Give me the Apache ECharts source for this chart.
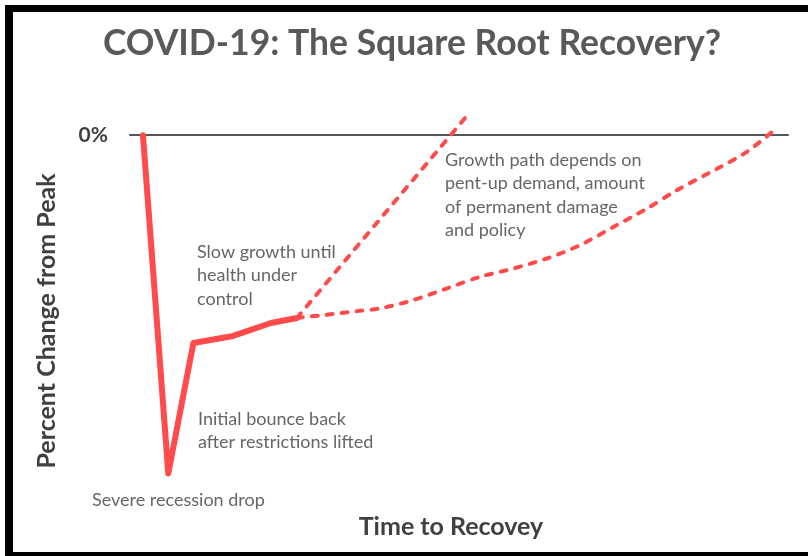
<!DOCTYPE html>
<html lang="en">
<head>
    <meta charset="UTF-8">
    <title>COVID-19: The Square Root Recovery?</title>
    <script src="https://cdn.jsdelivr.net/npm/echarts@6/dist/echarts.min.js"></script>
    <style>
        html, body { margin: 0; padding: 0; background: #fff; overflow: hidden; }
        #chart { position: absolute; left: 0; top: 0; width: 808px; height: 556px; }
        /* black frame round the picture, no right edge */
        #frame {
            position: absolute; left: 5px; top: 5px; width: 820px; height: 540px;
            border-left: 8px solid #000; border-top: 7px solid #000; border-bottom: 6px solid #000;
            pointer-events: none;
        }
    </style>
</head>
<body>
<div id="chart"></div>
<div id="frame"></div>
<script>
    // x = time units, y = percent change from peak
    var dropX = [0.65, 1.92, 3.18, 5.17, 7.07, 8.37];
    var dropY = [0, -29.7, -18.25, -17.63, -16.49, -16.05];

    var fastX = [8.37, 17.05];
    var fastY = [-16.05, 2.02];

    var slowX = [8.37, 9.68, 11.38, 12.54, 14.19, 15.9, 17.55, 19.21, 20.91, 22.57, 24.22, 25.93, 27.43, 29.44, 30.94, 32.45];
    var slowY = [-16.05, -15.8, -15.45, -15.21, -14.49, -13.45, -12.44, -11.71, -10.83, -9.66, -8.08, -6.44, -4.83, -2.95, -1.46, 0.65];

    var RED = '#ff4b4b';
    var NOTE = '#666666';

    function pairs(xs, ys) {
        var out = [];
        for (var i = 0; i < xs.length; i++) {
            out.push([xs[i], ys[i]]);
        }
        return out;
    }

    // annotation block, y is the centre of its first line
    function note(x, y, text) {
        return {
            type: 'text', x: x, y: y - 11.75, z: 10,
            style: {
                text: text,
                fill: NOTE,
                font: '18px Lato',
                lineHeight: 23.5,
                textAlign: 'left',
                textVerticalAlign: 'top'
            }
        };
    }

    var option = {
        backgroundColor: '#fff',
        animation: false,
        grid: { left: 130, right: 20, top: 101, bottom: 45 },
        xAxis: {
            type: 'value',
            min: 0,
            max: 33,
            axisLine: { show: true, onZero: true, lineStyle: { color: '#555', width: 2 } },
            axisTick: { show: false },
            axisLabel: { show: false },
            splitLine: { show: false }
        },
        yAxis: {
            type: 'value',
            min: -33,
            max: 3,
            interval: 3,
            axisLine: { show: false },
            axisTick: { show: false },
            splitLine: { show: false },
            axisLabel: {
                margin: 22,
                color: '#404040',
                fontFamily: 'Lato',
                fontWeight: 'bold',
                fontSize: 21,
                formatter: function (v) { return v === 0 ? '0%' : ''; }
            }
        },
        graphic: [
            {
                type: 'text', x: 412, y: 44,
                style: {
                    text: 'COVID-19: The Square Root Recovery?',
                    fill: '#595959', font: 'bold 35.5px Lato',
                    textAlign: 'center', textVerticalAlign: 'middle'
                }
            },
            {
                type: 'text', x: 47, y: 321, rotation: Math.PI / 2,
                style: {
                    text: 'Percent Change from Peak',
                    fill: '#404040', font: 'bold 25px Lato',
                    textAlign: 'center', textVerticalAlign: 'middle'
                }
            },
            {
                type: 'text', x: 451, y: 527,
                style: {
                    text: 'Time to Recovey',
                    fill: '#404040', font: 'bold 25px Lato',
                    textAlign: 'center', textVerticalAlign: 'middle'
                }
            },
            note(197, 252, 'Slow growth until\nhealth under\ncontrol'),
            note(198, 419, 'Initial bounce back\nafter restrictions lifted'),
            note(92, 500, 'Severe recession drop'),
            note(445, 160, 'Growth path depends on\npent-up demand, amount\nof permanent damage\nand policy')
        ],
        series: [
            {
                name: 'Fast recovery',
                type: 'line',
                data: pairs(fastX, fastY),
                symbol: 'none',
                z: 2,
                lineStyle: { color: RED, width: 4, type: [6, 9], cap: 'round' }
            },
            {
                name: 'Slow recovery',
                type: 'line',
                data: pairs(slowX, slowY),
                symbol: 'none',
                smooth: 0.3,
                z: 2,
                lineStyle: { color: RED, width: 4, type: [6, 9], cap: 'round' }
            },
            {
                name: 'Drop and bounce',
                type: 'line',
                data: pairs(dropX, dropY),
                symbol: 'none',
                z: 3,
                lineStyle: { color: RED, width: 6, cap: 'round', join: 'round' }
            }
        ]
    };

    var chart = echarts.init(document.getElementById('chart'));
    chart.setOption(option);
</script>
</body>
</html>
